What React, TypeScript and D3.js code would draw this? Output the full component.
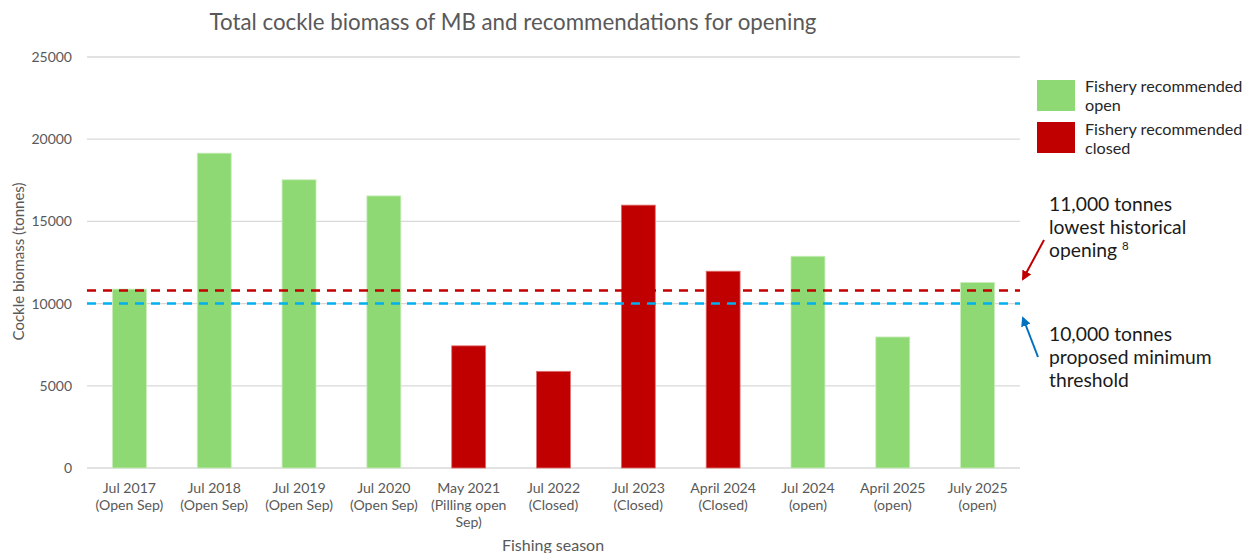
import React from 'react';
import * as d3 from 'd3';

const seasons = [
  ['Jul 2017', '(Open Sep)'],
  ['Jul 2018', '(Open Sep)'],
  ['Jul 2019', '(Open Sep)'],
  ['Jul 2020', '(Open Sep)'],
  ['May 2021', '(Pilling open', 'Sep)'],
  ['Jul 2022', '(Closed)'],
  ['Jul 2023', '(Closed)'],
  ['April 2024', '(Closed)'],
  ['Jul 2024', '(open)'],
  ['April 2025', '(open)'],
  ['July 2025', '(open)'],
];
const biomass = [10880, 19150, 17530, 16550, 7430, 5880, 15990, 11970, 12880, 7970, 11280];
const status = ['open', 'open', 'open', 'open', 'closed', 'closed', 'closed', 'closed', 'open', 'open', 'open'];
const yTicks = [0, 5000, 10000, 15000, 20000, 25000];
const lowestOpening = 10800;
const minThreshold = 10000;

const W = 1245, H = 553;
const FONT = 'Lato, "Open Sans", sans-serif';
const GREEN = '#8ED973';
const RED = '#C00000';
const GREY = '#595959';

function App() {
  const x = d3.scaleBand<number>()
    .domain(d3.range(seasons.length))
    .range([87, 1020])
    .paddingInner(0.6)
    .paddingOuter(0.3);
  const y = d3.scaleLinear().domain([0, 25000]).range([468, 57]);
  const keys = seasons.map(s => s.join(' '));

  return (
    <svg width={W} height={H} style={{ position: 'absolute', left: 0, top: 0, background: '#fff' }}
      fontFamily={FONT}>
      <defs>
        <marker id="arRed" viewBox="0 0 10 10" refX="8" refY="5" markerWidth="5" markerHeight="5" orient="auto">
          <path d="M0,0 L10,5 L0,10 z" fill={RED} />
        </marker>
        <marker id="arBlue" viewBox="0 0 10 10" refX="8" refY="5" markerWidth="5" markerHeight="5" orient="auto">
          <path d="M0,0 L10,5 L0,10 z" fill="#0070C0" />
        </marker>
      </defs>

      <text x={513} y={30} textAnchor="middle" fontSize={22.3} fill={GREY}>
        Total cockle biomass of MB and recommendations for opening
      </text>

      {/* gridlines + y ticks */}
      {yTicks.map(t => (
        <g key={t}>
          <line x1={87} x2={1020} y1={y(t)} y2={y(t)} stroke="#D9D9D9" strokeWidth={1.3} />
          <text x={72} y={y(t)} dy="0.35em" textAnchor="end" fontSize={14} fill={GREY}>{t}</text>
        </g>
      ))}

      <text transform={`translate(24,${y(12500) - 1}) rotate(-90)`} textAnchor="middle" fontSize={15} fill={GREY}>
        Cockle biomass (tonnes)
      </text>

      {/* bars */}
      {biomass.map((v, i) => (
        <rect key={keys[i]} x={x(i)} y={y(v)} width={x.bandwidth()} height={y(0) - y(v)}
          fill={status[i] === 'open' ? GREEN : RED}
          stroke={status[i] === 'open' ? '#C8EDB8' : '#E07070'} strokeWidth={0.8} />
      ))}

      {/* reference lines */}
      <line x1={87} x2={1020} y1={y(lowestOpening)} y2={y(lowestOpening)} stroke={RED}
        strokeWidth={2.5} strokeDasharray="9,7" />
      <line x1={87} x2={1020} y1={y(minThreshold)} y2={y(minThreshold)} stroke="#00B0F0"
        strokeWidth={2.5} strokeDasharray="9,7" />

      {/* x tick labels */}
      {seasons.map((lines, i) => (
        <text key={keys[i]} x={(x(i) ?? 0) + x.bandwidth() / 2} y={493} textAnchor="middle" fontSize={14.1} fill={GREY}>
          {lines.map((l, j) => (
            <tspan key={j} x={(x(i) ?? 0) + x.bandwidth() / 2} dy={j === 0 ? 0 : 17}>{l}</tspan>
          ))}
        </text>
      ))}

      <text x={553} y={551} textAnchor="middle" fontSize={16} fill={GREY}>Fishing season</text>

      {/* legend */}
      <rect x={1037} y={80} width={38} height={31} fill={GREEN} />
      <text x={1085} y={92} fontSize={16.2} fill="#262626">
        <tspan x={1085}>Fishery recommended</tspan>
        <tspan x={1085} dy={19}>open</tspan>
      </text>
      <rect x={1037} y={122} width={38} height={31} fill={RED} />
      <text x={1085} y={135} fontSize={16.2} fill="#262626">
        <tspan x={1085}>Fishery recommended</tspan>
        <tspan x={1085} dy={19}>closed</tspan>
      </text>

      {/* annotations */}
      <text x={1049} y={211} fontSize={19.3} fill="#1a1a1a">
        <tspan x={1049}>11,000 tonnes</tspan>
        <tspan x={1049} dy={23}>lowest historical</tspan>
        <tspan x={1049} dy={23}>opening </tspan>
        <tspan fontSize={11.5} dy={-7}>8</tspan>
      </text>
      <line x1={1044} y1={240} x2={1023} y2={279} stroke={RED} strokeWidth={2} markerEnd="url(#arRed)" />

      <text x={1049} y={341} fontSize={19.3} fill="#1a1a1a">
        <tspan x={1049}>10,000 tonnes</tspan>
        <tspan x={1049} dy={23}>proposed minimum</tspan>
        <tspan x={1049} dy={23}>threshold</tspan>
      </text>
      <line x1={1038} y1={357} x2={1023} y2={318} stroke="#0070C0" strokeWidth={2} markerEnd="url(#arBlue)" />
    </svg>
  );
}

export default App;
